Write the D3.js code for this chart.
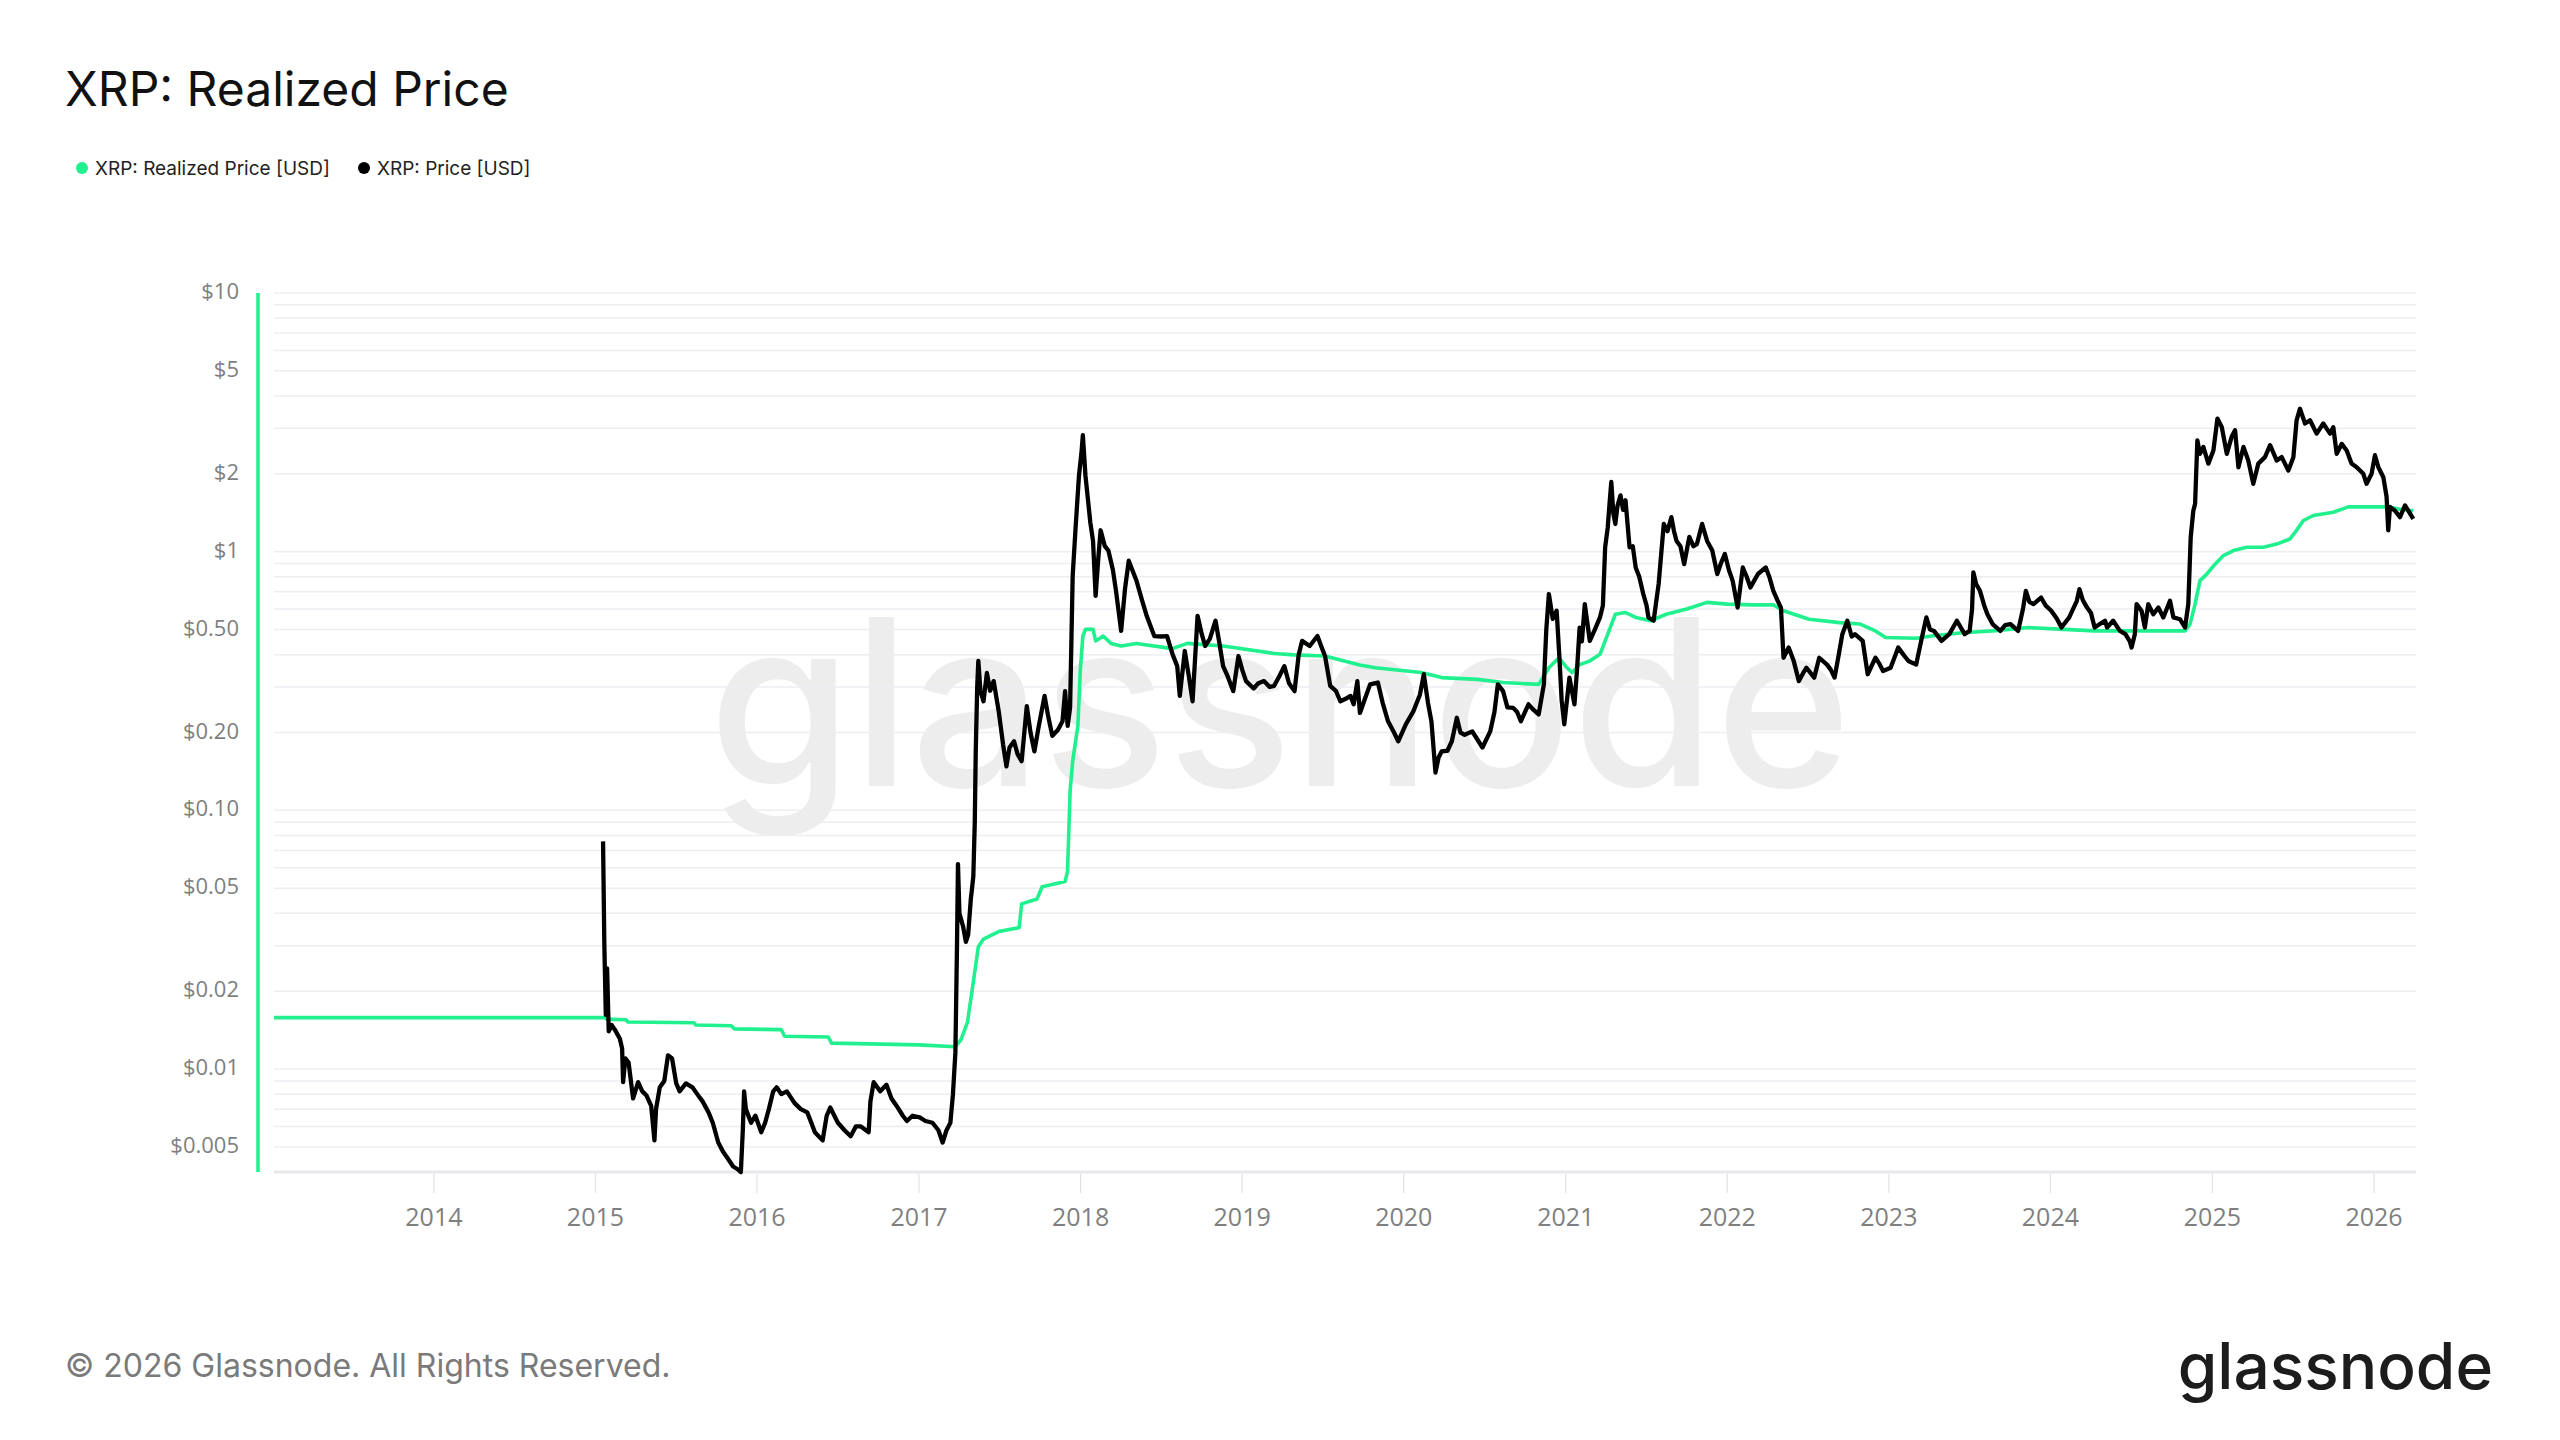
<!DOCTYPE html>
<html><head><meta charset="utf-8">
<script src="https://cdn.jsdelivr.net/npm/d3@7"></script>
<style>
html,body{margin:0;padding:0;background:#fff;}
svg{display:block;}
</style></head>
<body><svg id="chart" width="2560" height="1440"></svg>
<script>
// ---------- data (decimal year, USD) ----------
const titleText = "XRP: Realized Price";
const seriesNames = ["XRP: Realized Price [USD]", "XRP: Price [USD]"];
const seriesColors = ["#20f08e", "#000000"];
const yTickValues = [10, 5, 2, 1, 0.5, 0.2, 0.1, 0.05, 0.02, 0.01, 0.005];
const yTickLabels = ["$10", "$5", "$2", "$1", "$0.50", "$0.20", "$0.10", "$0.05", "$0.02", "$0.01", "$0.005"];
const xTickYears = [2014, 2015, 2016, 2017, 2018, 2019, 2020, 2021, 2022, 2023, 2024, 2025, 2026];
const xDomainYears = [2013.0103, 2026.26];
const yDomain = [0.004, 10];
const footerText = "© 2026 Glassnode. All Rights Reserved.";
const brandText = "glassnode";

const realizedSeries = [
  [2013.0103, 0.0158], [2015.06, 0.0158], [2015.07, 0.0156], [2015.19, 0.0155], [2015.20, 0.0152],
  [2015.61, 0.0151], [2015.62, 0.0148], [2015.84, 0.0147], [2015.86, 0.0143], [2016.15, 0.0142],
  [2016.17, 0.0134], [2016.44, 0.0133], [2016.46, 0.0126], [2017.00, 0.0124], [2017.225, 0.0122],
  [2017.26, 0.0130], [2017.30, 0.0152], [2017.336, 0.0217], [2017.367, 0.0297], [2017.399, 0.0318],
  [2017.493, 0.0340], [2017.620, 0.0352], [2017.635, 0.0435], [2017.730, 0.0454], [2017.762, 0.0507],
  [2017.904, 0.0531], [2017.919, 0.058], [2017.935, 0.1186], [2017.951, 0.155], [2017.983, 0.212],
  [2017.998, 0.346], [2018.014, 0.472], [2018.030, 0.501], [2018.077, 0.501], [2018.093, 0.452],
  [2018.140, 0.472], [2018.188, 0.442], [2018.251, 0.432], [2018.346, 0.442], [2018.567, 0.422],
  [2018.661, 0.442], [2018.882, 0.432], [2019.198, 0.404], [2019.324, 0.399], [2019.513, 0.395],
  [2019.728, 0.365], [2019.824, 0.356], [2020.108, 0.341], [2020.234, 0.326], [2020.455, 0.321],
  [2020.613, 0.312], [2020.833, 0.307], [2020.896, 0.356], [2020.959, 0.389], [2021.000, 0.36],
  [2021.039, 0.341], [2021.086, 0.366], [2021.149, 0.378], [2021.212, 0.401], [2021.260, 0.48],
  [2021.307, 0.573], [2021.370, 0.582], [2021.433, 0.557], [2021.528, 0.541], [2021.622, 0.573],
  [2021.749, 0.600], [2021.875, 0.637], [2022.001, 0.627], [2022.159, 0.623], [2022.285, 0.623],
  [2022.348, 0.591], [2022.506, 0.548], [2022.695, 0.532], [2022.822, 0.525], [2022.917, 0.494],
  [2022.980, 0.466], [2023.169, 0.463], [2023.264, 0.472], [2023.453, 0.486], [2023.642, 0.494],
  [2023.863, 0.509], [2024.084, 0.501], [2024.273, 0.494], [2024.831, 0.494], [2024.862, 0.525],
  [2024.893, 0.627], [2024.923, 0.773], [2024.965, 0.819], [2025.016, 0.895], [2025.068, 0.966],
  [2025.130, 1.01], [2025.212, 1.04], [2025.315, 1.04], [2025.398, 1.07], [2025.480, 1.12],
  [2025.521, 1.21], [2025.563, 1.32], [2025.625, 1.38], [2025.748, 1.42], [2025.841, 1.49],
  [2026.078, 1.49], [2026.161, 1.46], [2026.243, 1.44]
];

const priceSeries = [
  [2015.047, 0.0759], [2015.055, 0.030], [2015.064, 0.0162], [2015.072, 0.0245], [2015.082, 0.0140],
  [2015.10, 0.0148], [2015.12, 0.0142], [2015.151, 0.0131], [2015.165, 0.0120], [2015.171, 0.0089],
  [2015.185, 0.0110], [2015.205, 0.0106], [2015.233, 0.0077], [2015.264, 0.0089], [2015.290, 0.0082],
  [2015.316, 0.0079], [2015.345, 0.0072], [2015.365, 0.0053], [2015.375, 0.0070], [2015.398, 0.0085],
  [2015.426, 0.0090], [2015.449, 0.0113], [2015.474, 0.0110], [2015.50, 0.0088], [2015.521, 0.0082],
  [2015.560, 0.0088], [2015.600, 0.0085], [2015.630, 0.0080], [2015.663, 0.0075], [2015.700, 0.0068],
  [2015.726, 0.0062], [2015.760, 0.0052], [2015.789, 0.0048], [2015.820, 0.0045], [2015.852, 0.0042],
  [2015.880, 0.0041], [2015.900, 0.0040], [2015.912, 0.0058], [2015.920, 0.0082], [2015.931, 0.0070],
  [2015.963, 0.0062], [2015.990, 0.0066], [2016.026, 0.0057], [2016.050, 0.0062], [2016.073, 0.0070],
  [2016.100, 0.0082], [2016.121, 0.0085], [2016.150, 0.0080], [2016.184, 0.0082], [2016.231, 0.0074],
  [2016.270, 0.0070], [2016.310, 0.0068], [2016.335, 0.0062], [2016.357, 0.0057], [2016.405, 0.0053],
  [2016.430, 0.0066], [2016.452, 0.0071], [2016.499, 0.0062], [2016.540, 0.0058], [2016.578, 0.0055],
  [2016.610, 0.0060], [2016.641, 0.0060], [2016.689, 0.0057], [2016.700, 0.0075], [2016.720, 0.0089],
  [2016.760, 0.0082], [2016.799, 0.0087], [2016.830, 0.0077], [2016.862, 0.0072], [2016.900, 0.0066],
  [2016.925, 0.0063], [2016.960, 0.0066], [2017.004, 0.0065], [2017.040, 0.0063], [2017.083, 0.0062],
  [2017.120, 0.0058], [2017.146, 0.0052], [2017.170, 0.0058], [2017.194, 0.0062], [2017.210, 0.0080],
  [2017.225, 0.0116], [2017.235, 0.0300], [2017.241, 0.0620], [2017.250, 0.0400], [2017.273, 0.0355],
  [2017.290, 0.0310], [2017.304, 0.0330], [2017.320, 0.0450], [2017.336, 0.0555], [2017.345, 0.0900],
  [2017.351, 0.169], [2017.360, 0.300], [2017.367, 0.378], [2017.380, 0.290], [2017.399, 0.264],
  [2017.420, 0.340], [2017.440, 0.290], [2017.462, 0.316], [2017.493, 0.242], [2017.520, 0.180],
  [2017.541, 0.148], [2017.560, 0.175], [2017.588, 0.185], [2017.610, 0.165], [2017.635, 0.155],
  [2017.667, 0.253], [2017.690, 0.200], [2017.714, 0.169], [2017.740, 0.210], [2017.777, 0.277],
  [2017.800, 0.230], [2017.825, 0.194], [2017.860, 0.205], [2017.888, 0.221], [2017.904, 0.289],
  [2017.920, 0.212], [2017.935, 0.250], [2017.951, 0.807], [2017.968, 1.21], [2017.990, 1.97],
  [2018.005, 2.40], [2018.014, 2.82], [2018.030, 1.97], [2018.046, 1.58], [2018.060, 1.30],
  [2018.077, 1.10], [2018.093, 0.675], [2018.110, 0.95], [2018.124, 1.21], [2018.150, 1.05],
  [2018.172, 1.01], [2018.200, 0.85], [2018.219, 0.706], [2018.251, 0.494], [2018.275, 0.72],
  [2018.298, 0.923], [2018.320, 0.85], [2018.346, 0.772], [2018.380, 0.65], [2018.409, 0.565],
  [2018.456, 0.472], [2018.500, 0.47], [2018.535, 0.472], [2018.570, 0.40], [2018.598, 0.361],
  [2018.614, 0.277], [2018.645, 0.413], [2018.670, 0.33], [2018.693, 0.264], [2018.710, 0.40],
  [2018.724, 0.565], [2018.750, 0.48], [2018.771, 0.432], [2018.800, 0.46], [2018.835, 0.541],
  [2018.860, 0.44], [2018.882, 0.361], [2018.910, 0.33], [2018.945, 0.289], [2018.977, 0.395],
  [2019.000, 0.35], [2019.024, 0.316], [2019.071, 0.296], [2019.100, 0.31], [2019.135, 0.316],
  [2019.170, 0.30], [2019.198, 0.303], [2019.230, 0.33], [2019.261, 0.361], [2019.290, 0.31],
  [2019.324, 0.289], [2019.350, 0.40], [2019.371, 0.452], [2019.418, 0.432], [2019.466, 0.472],
  [2019.490, 0.43], [2019.513, 0.395], [2019.545, 0.303], [2019.580, 0.29], [2019.608, 0.264],
  [2019.640, 0.27], [2019.671, 0.277], [2019.690, 0.257], [2019.713, 0.316], [2019.729, 0.238],
  [2019.760, 0.27], [2019.792, 0.307], [2019.840, 0.312], [2019.870, 0.26], [2019.903, 0.221],
  [2019.940, 0.20], [2019.966, 0.185], [2020.013, 0.215], [2020.060, 0.242], [2020.100, 0.28],
  [2020.124, 0.336], [2020.150, 0.26], [2020.171, 0.221], [2020.196, 0.140], [2020.215, 0.16],
  [2020.234, 0.169], [2020.270, 0.17], [2020.297, 0.185], [2020.328, 0.228], [2020.350, 0.20],
  [2020.376, 0.196], [2020.423, 0.202], [2020.450, 0.19], [2020.486, 0.175], [2020.534, 0.202],
  [2020.560, 0.24], [2020.581, 0.307], [2020.613, 0.289], [2020.640, 0.25], [2020.676, 0.249],
  [2020.700, 0.24], [2020.723, 0.221], [2020.770, 0.257], [2020.800, 0.245], [2020.833, 0.235],
  [2020.865, 0.307], [2020.880, 0.50], [2020.896, 0.686], [2020.920, 0.55], [2020.944, 0.591],
  [2020.960, 0.40], [2020.975, 0.265], [2020.991, 0.215], [2021.023, 0.326], [2021.054, 0.257],
  [2021.070, 0.35], [2021.086, 0.509], [2021.100, 0.45], [2021.118, 0.627], [2021.149, 0.452],
  [2021.180, 0.50], [2021.212, 0.557], [2021.230, 0.62], [2021.244, 1.04], [2021.260, 1.24],
  [2021.270, 1.50], [2021.282, 1.86], [2021.295, 1.40], [2021.307, 1.28], [2021.320, 1.50],
  [2021.339, 1.65], [2021.355, 1.45], [2021.370, 1.58], [2021.395, 1.04], [2021.415, 1.05],
  [2021.433, 0.869], [2021.455, 0.80], [2021.480, 0.686], [2021.500, 0.62], [2021.512, 0.557],
  [2021.544, 0.541], [2021.560, 0.64], [2021.575, 0.75], [2021.595, 1.05], [2021.607, 1.28],
  [2021.630, 1.20], [2021.654, 1.36], [2021.670, 1.20], [2021.686, 1.10], [2021.710, 1.05],
  [2021.733, 0.896], [2021.765, 1.14], [2021.790, 1.05], [2021.812, 1.07], [2021.844, 1.28],
  [2021.875, 1.10], [2021.907, 1.01], [2021.938, 0.82], [2021.960, 0.90], [2021.985, 0.98],
  [2022.010, 0.85], [2022.033, 0.773], [2022.064, 0.608], [2022.096, 0.869], [2022.120, 0.80],
  [2022.143, 0.727], [2022.170, 0.78], [2022.190, 0.82], [2022.238, 0.869], [2022.260, 0.80],
  [2022.285, 0.706], [2022.310, 0.65], [2022.332, 0.608], [2022.348, 0.389], [2022.380, 0.426],
  [2022.410, 0.38], [2022.443, 0.316], [2022.470, 0.34], [2022.490, 0.356], [2022.538, 0.326],
  [2022.569, 0.389], [2022.617, 0.366], [2022.640, 0.35], [2022.664, 0.326], [2022.690, 0.40],
  [2022.712, 0.48], [2022.743, 0.541], [2022.770, 0.47], [2022.790, 0.48], [2022.838, 0.452],
  [2022.869, 0.336], [2022.917, 0.389], [2022.940, 0.37], [2022.964, 0.346], [2023.011, 0.356],
  [2023.058, 0.426], [2023.090, 0.40], [2023.121, 0.378], [2023.169, 0.366], [2023.200, 0.452],
  [2023.232, 0.557], [2023.255, 0.50], [2023.279, 0.494], [2023.326, 0.452], [2023.374, 0.48],
  [2023.421, 0.541], [2023.469, 0.48], [2023.500, 0.494], [2023.515, 0.60], [2023.523, 0.832],
  [2023.540, 0.75], [2023.564, 0.706], [2023.590, 0.62], [2023.610, 0.573], [2023.642, 0.525],
  [2023.690, 0.494], [2023.720, 0.52], [2023.753, 0.525], [2023.800, 0.494], [2023.830, 0.60],
  [2023.848, 0.706], [2023.870, 0.64], [2023.895, 0.627], [2023.942, 0.665], [2023.970, 0.62],
  [2024.005, 0.591], [2024.040, 0.55], [2024.068, 0.509], [2024.116, 0.557], [2024.163, 0.646],
  [2024.179, 0.716], [2024.200, 0.65], [2024.226, 0.608], [2024.250, 0.58], [2024.273, 0.509],
  [2024.305, 0.525], [2024.337, 0.541], [2024.350, 0.509], [2024.387, 0.541], [2024.429, 0.494],
  [2024.463, 0.48], [2024.490, 0.45], [2024.501, 0.426], [2024.521, 0.48], [2024.532, 0.627],
  [2024.563, 0.59], [2024.583, 0.509], [2024.604, 0.627], [2024.635, 0.573], [2024.666, 0.608],
  [2024.697, 0.557], [2024.738, 0.646], [2024.759, 0.557], [2024.800, 0.548], [2024.831, 0.509],
  [2024.851, 0.627], [2024.866, 1.14], [2024.882, 1.44], [2024.893, 1.53], [2024.907, 2.69],
  [2024.923, 2.39], [2024.944, 2.54], [2024.975, 2.19], [2025.006, 2.46], [2025.031, 3.27],
  [2025.058, 3.03], [2025.089, 2.39], [2025.119, 2.78], [2025.140, 2.95], [2025.161, 2.12],
  [2025.192, 2.54], [2025.222, 2.25], [2025.253, 1.83], [2025.284, 2.19], [2025.325, 2.32],
  [2025.357, 2.58], [2025.398, 2.25], [2025.429, 2.32], [2025.470, 2.06], [2025.501, 2.32],
  [2025.521, 3.22], [2025.542, 3.57], [2025.573, 3.13], [2025.604, 3.22], [2025.645, 2.86],
  [2025.686, 3.13], [2025.728, 2.86], [2025.748, 3.03], [2025.769, 2.39], [2025.800, 2.61],
  [2025.831, 2.46], [2025.861, 2.19], [2025.893, 2.12], [2025.934, 2.00], [2025.954, 1.83],
  [2025.985, 2.00], [2026.006, 2.36], [2026.027, 2.12], [2026.058, 1.94], [2026.078, 1.63],
  [2026.088, 1.21], [2026.099, 1.49], [2026.130, 1.44], [2026.161, 1.36], [2026.192, 1.51],
  [2026.212, 1.44], [2026.243, 1.34]
];

// ---------- helpers ----------
function toDate(y) {
  const yr = Math.floor(y);
  const a = Date.UTC(yr, 0, 1), b = Date.UTC(yr + 1, 0, 1);
  return new Date(a + (y - yr) * (b - a));
}

const svg = d3.select("#chart");
const x = d3.scaleUtc().domain(xDomainYears.map(toDate)).range([274, 2416]);
const y = d3.scaleLog().domain(yDomain).range([1172, 293]);

const FONT_UI = "Inter, 'Noto Sans', sans-serif";
const FONT_AX = "'Open Sans', 'Noto Sans', sans-serif";

// watermark
svg.append("text")
  .attr("x", 1280).attr("y", 786)
  .attr("text-anchor", "middle")
  .attr("font-family", FONT_UI).attr("font-weight", 500)
  .attr("font-size", 232).attr("fill", "#ededed")
  .text(brandText);

// horizontal grid
const gridVals = y.ticks().filter(v => v > yDomain[0] * 1.0001);
svg.append("g").selectAll("line").data(gridVals).join("line")
  .attr("x1", 274).attr("x2", 2416)
  .attr("y1", d => y(d)).attr("y2", d => y(d))
  .attr("stroke", "#eceef2").attr("stroke-width", 1.5);

// x baseline
svg.append("line")
  .attr("x1", 274).attr("x2", 2416)
  .attr("y1", y(yDomain[0])).attr("y2", y(yDomain[0]))
  .attr("stroke", "#e6e8ec").attr("stroke-width", 3);

// x axis ticks & labels
const xTicks = xTickYears.map(v => toDate(v));
const xg = svg.append("g");
xg.selectAll("line").data(xTicks).join("line")
  .attr("x1", d => x(d)).attr("x2", d => x(d))
  .attr("y1", 1174).attr("y2", 1193)
  .attr("stroke", "#e2e2e2").attr("stroke-width", 1.2);
xg.selectAll("text").data(xTicks).join("text")
  .attr("x", d => x(d)).attr("y", 1216)
  .attr("text-anchor", "middle").attr("dominant-baseline", "central")
  .attr("font-family", FONT_AX).attr("font-size", 25).attr("fill", "#7f7f7f")
  .text(d => d3.utcFormat("%Y")(d));

// y axis
svg.append("line")
  .attr("x1", 258).attr("x2", 258)
  .attr("y1", y(yDomain[1])).attr("y2", y(yDomain[0]))
  .attr("stroke", seriesColors[0]).attr("stroke-width", 3.5);
svg.append("g").selectAll("text").data(yTickValues).join("text")
  .attr("x", 239).attr("y", d => y(d) - 3)
  .attr("text-anchor", "end").attr("dominant-baseline", "central")
  .attr("font-family", FONT_AX).attr("font-size", 22).attr("fill", "#7f7f7f")
  .text((d, i) => yTickLabels[i]);

// lines
const line = d3.line().x(d => x(toDate(d[0]))).y(d => y(d[1]));
svg.append("path").datum(realizedSeries)
  .attr("d", line).attr("fill", "none")
  .attr("stroke", seriesColors[0]).attr("stroke-width", 3.6)
  .attr("stroke-linejoin", "round");
svg.append("path").datum(priceSeries)
  .attr("d", line).attr("fill", "none")
  .attr("stroke", seriesColors[1]).attr("stroke-width", 4.3)
  .attr("stroke-linejoin", "round");

// title
svg.append("text").attr("x", 65).attr("y", 106)
  .attr("font-family", FONT_UI).attr("font-size", 48).attr("fill", "#111")
  .text(titleText);

// legend
const legendX = [82, 364];
const lg = svg.append("g");
seriesNames.forEach((name, i) => {
  lg.append("circle").attr("cx", legendX[i]).attr("cy", 168).attr("r", 6).attr("fill", seriesColors[i]);
  lg.append("text").attr("x", legendX[i] + 13).attr("y", 168)
    .attr("dominant-baseline", "central")
    .attr("font-family", FONT_UI).attr("font-size", 19).attr("fill", "#222")
    .text(name);
});

// footer
svg.append("text").attr("x", 65).attr("y", 1377)
  .attr("font-family", FONT_UI).attr("font-size", 32).attr("fill", "#7a7a7a")
  .text(footerText);

svg.append("text").attr("x", 2493).attr("y", 1389)
  .attr("text-anchor", "end")
  .attr("font-family", FONT_UI).attr("font-weight", 500)
  .attr("font-size", 64).attr("fill", "#1c1c1c")
  .text(brandText);
</script>
</body></html>
